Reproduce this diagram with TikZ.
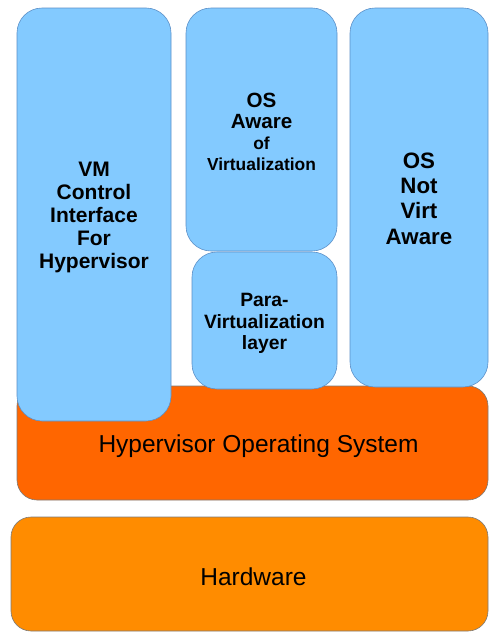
\documentclass[tikz,border=0pt]{standalone}
\usepackage{fontspec}
\setmainfont{Liberation Sans}
\definecolor{guestblue}{HTML}{83CAFF}
\definecolor{guestedge}{HTML}{5B8FC7}
\definecolor{hyporange}{HTML}{FF6600}
\definecolor{hworange}{HTML}{FF8C00}
\definecolor{layeredge}{HTML}{7A7A7A}
\begin{document}
\begin{tikzpicture}[x=1pt,y=-1pt,
  guest/.style={fill=guestblue, draw=guestedge, line width=0.6pt,
    rounded corners=25pt, inner sep=0pt},
  layer/.style={draw=layeredge, line width=0.6pt, rounded corners=20pt,
    inner sep=0pt},
  boxtext/.style={align=center, inner sep=0pt},
  layertext/.style={boxtext, font=\fontsize{24.5}{28}\selectfont}]
\useasboundingbox (0,0) rectangle (489,632);

% base layers
\node[layer, fill=hyporange, minimum width=471pt, minimum height=114pt]
  (hyp) at (252.5,443) {};
\node[layer, fill=hworange, minimum width=477pt, minimum height=114pt]
  (hw) at (249.5,574) {};

% guest stacks on top of the hypervisor
\node[guest, minimum width=154pt, minimum height=413pt] (vm) at (94,214.5) {};
\node[guest, minimum width=151pt, minimum height=243pt] (aware) at (261.5,129.5) {};
\node[guest, minimum width=145pt, minimum height=137pt] (para) at (264.5,320.5) {};
\node[guest, minimum width=138pt, minimum height=379pt] (notaware) at (419,197.5) {};

% captions
\node[layertext] (hyptext) at ([xshift=6pt,yshift=-3pt]hyp.center)
  {Hypervisor Operating System};
\node[layertext] (hwtext) at ([xshift=4pt,yshift=-3pt]hw.center) {Hardware};
\node[boxtext, font=\bfseries\fontsize{21}{23}\selectfont]
  (vmtext) at ([yshift=-3pt]vm.center) {VM\\Control\\Interface\\For\\Hypervisor};
\node[boxtext, font=\bfseries\fontsize{20.6}{21.2}\selectfont]
  (awaretext) at ([yshift=-2.5pt]aware.center)
  {OS\\Aware\\{\fontsize{17.4}{20}\selectfont of}\\{\fontsize{17.4}{20}\selectfont Virtualization}};
\node[boxtext, font=\bfseries\fontsize{19.3}{21.5}\selectfont]
  (paratext) at ([yshift=-3pt]para.center) {Para-\\Virtualization\\layer};
\node[boxtext, font=\bfseries\fontsize{22.3}{25.3}\selectfont]
  (notawaretext) at ([yshift=-1pt]notaware.center) {OS\\Not\\Virt\\Aware};
\end{tikzpicture}
\end{document}
